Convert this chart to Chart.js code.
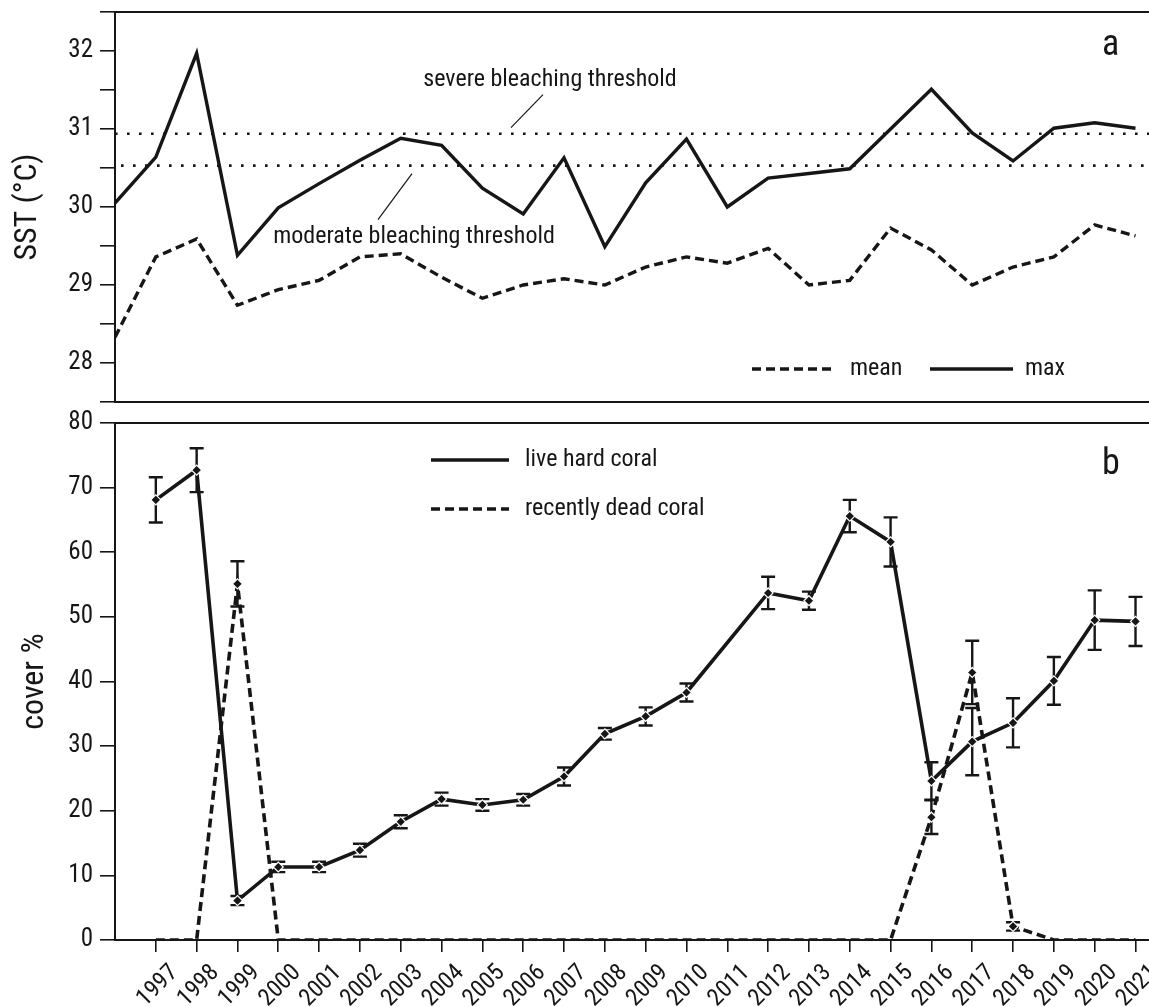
<!DOCTYPE html>
<html>
<head>
<meta charset="utf-8">
<script src="https://cdn.jsdelivr.net/npm/chart.js@4.4.0/dist/chart.umd.min.js"></script>
<style>
html,body{margin:0;padding:0;background:#fff;overflow:hidden;width:1149px;height:1007px}
.wrap{position:absolute;left:0;width:1170px}
#wrapA{top:0;height:420px}
#wrapB{top:405px;height:602px}
</style>
</head>
<body>
<div class="wrap" id="wrapA"><canvas id="sst"></canvas></div>
<div class="wrap" id="wrapB"><canvas id="cover"></canvas></div>
<script>
// panel a: sea surface temperature
const sstYears=[1996,1997,1998,1999,2000,2001,2002,2003,2004,2005,2006,2007,2008,2009,2010,2011,2012,2013,2014,2015,2016,2017,2018,2019,2020,2021];
const sstMax=[30.05,30.64,31.97,29.38,29.99,30.3,30.6,30.88,30.79,30.24,29.91,30.63,29.49,30.31,30.87,30.0,30.37,30.43,30.49,31.0,31.51,30.95,30.59,31.01,31.08,31.01];
const sstMean=[28.33,29.36,29.59,28.74,28.94,29.06,29.36,29.4,29.1,28.83,29.0,29.08,29.0,29.23,29.36,29.28,29.47,29.0,29.06,29.73,29.45,29.0,29.23,29.36,29.77,29.63];
const severeThr=30.94, moderateThr=30.53;

// panel b: coral cover
const coralYears=[1997,1998,1999,2000,2001,2002,2003,2004,2005,2006,2007,2008,2009,2010,2011,2012,2013,2014,2015,2016,2017,2018,2019,2020,2021];
const liveCover=[68.1,72.7,6.1,11.3,11.3,13.9,18.3,21.8,20.9,21.7,25.3,31.9,34.6,38.3,null,53.7,52.5,65.6,61.6,24.6,30.7,33.6,40.1,49.5,49.3];
const liveErr=[3.5,3.4,0.7,0.8,0.8,1.0,1.0,1.0,0.9,0.9,1.4,0.9,1.4,1.4,null,2.5,1.4,2.5,3.8,2.9,5.2,3.8,3.7,4.6,3.8];
const deadCover=[0,0,55.1,0,0,0,0,0,0,0,0,0,0,0,0,0,0,0,0,19.0,41.4,2.1,0,0,0];
const deadErr=[null,null,3.5,null,null,null,null,null,null,null,null,null,null,null,null,null,null,null,null,2.6,4.9,0.65,null,null,null];

const xMin=1996, xMax=2021.6;
const ink="#161616";
const FONT='"Liberation Sans Narrow","Arial Narrow","Roboto Condensed",sans-serif';
const tickFont={family:FONT,size:25};
const titleFont={family:FONT,size:32};

function pts(xs,ys){return xs.map((x,i)=>({x:x,y:ys[i]}))}

function narrowText(ctx,txt,x,y,size,align){
ctx.font=size+"px "+FONT;
ctx.textAlign=align||"left";
ctx.textBaseline="middle";
ctx.fillStyle=ink;
ctx.fillText(txt,x,y);
}

function sample(ctx,x1,x2,y,dash){
ctx.save();
ctx.strokeStyle=ink;ctx.lineWidth=3.5;
ctx.setLineDash(dash||[]);
ctx.beginPath();ctx.moveTo(x1,y);ctx.lineTo(x2,y);ctx.stroke();
ctx.restore();
}

function line(ctx,x1,y1,x2,y2,w){
ctx.save();
ctx.strokeStyle=ink;ctx.lineWidth=w||1.2;
ctx.beginPath();ctx.moveTo(x1,y1);ctx.lineTo(x2,y2);ctx.stroke();
ctx.restore();
}

function fixY(s){s.width=115;s.paddingTop=0;s.paddingBottom=0}

// ---------- panel a ----------
const sstDecor={
id:"sstDecor",
afterDraw(chart){
const ctx=chart.ctx,a=chart.chartArea,ys=chart.scales.y;
// frame top & bottom
line(ctx,a.left-1,a.top,a.right+20,a.top,2);
line(ctx,a.left-1,a.bottom,a.right+20,a.bottom,2);
// threshold labels with leaders
const ySev=ys.getPixelForValue(severeThr),yMod=ys.getPixelForValue(moderateThr);
narrowText(ctx,"severe bleaching threshold",550,ySev-54,24,"center");
line(ctx,543,ySev-39,511,ySev-6,1.2);
narrowText(ctx,"moderate bleaching threshold",414,yMod+71,24,"center");
line(ctx,412,yMod+8,378,yMod+54,1.2);
// legend
sample(ctx,752,832,369,[9,5]);
narrowText(ctx,"mean",850,369,24);
sample(ctx,930,1013,369);
narrowText(ctx,"max",1025,369,24);
narrowText(ctx,"a",1102,46,36);
}
};

new Chart(document.getElementById("sst"),{
type:"line",
data:{datasets:[
{label:"max",data:pts(sstYears,sstMax),borderColor:ink,borderWidth:3.4,pointRadius:0,tension:0},
{label:"mean",data:pts(sstYears,sstMean),borderColor:ink,borderWidth:3.4,borderDash:[9,5],pointRadius:0,tension:0},
{label:"severe",data:pts([xMin,xMax],[severeThr,severeThr]),borderColor:ink,borderWidth:2.6,borderDash:[2.6,9.4],borderDashOffset:-12,pointRadius:0},
{label:"moderate",data:pts([xMin,xMax],[moderateThr,moderateThr]),borderColor:ink,borderWidth:2.6,borderDash:[2.6,9.4],borderDashOffset:-6,pointRadius:0}
]},
options:{
animation:false,responsive:true,maintainAspectRatio:false,
layout:{padding:{top:12,left:0,right:10,bottom:18}},
plugins:{legend:{display:false},tooltip:{enabled:false}},
scales:{
x:{type:"linear",min:xMin,max:xMax,display:false},
y:{min:27.5,max:32.5,
ticks:{stepSize:0.5,color:ink,font:tickFont,padding:7,
callback:v=>Number.isInteger(v)?String(v):""},
grid:{drawOnChartArea:false,tickLength:15,color:ink,lineWidth:1.6},
border:{color:ink,width:2},
title:{display:true,text:"SST (°C)",color:ink,font:titleFont,padding:{top:9,bottom:0}},
afterFit:fixY}
}
},
plugins:[sstDecor]
});

// ---------- panel b ----------
const coverDecor={
id:"coverDecor",
beforeDatasetsDraw(chart){
const ctx=chart.ctx,xs=chart.scales.x,ys=chart.scales.y;
ctx.save();
ctx.strokeStyle=ink;ctx.lineWidth=2.4;
[[liveCover,liveErr],[deadCover,deadErr]].forEach(([m,e])=>{
coralYears.forEach((yr,i)=>{
if(e[i]==null||m[i]==null)return;
const px=xs.getPixelForValue(yr);
const t=ys.getPixelForValue(m[i]+e[i]),b=ys.getPixelForValue(m[i]-e[i]);
ctx.beginPath();
ctx.moveTo(px,t);ctx.lineTo(px,b);
ctx.moveTo(px-7,t);ctx.lineTo(px+7,t);
ctx.moveTo(px-7,b);ctx.lineTo(px+7,b);
ctx.stroke();
});
});
ctx.restore();
},
afterDraw(chart){
const ctx=chart.ctx,a=chart.chartArea,xs=chart.scales.x;
line(ctx,a.left-1,a.top,a.right+20,a.top,2);
// rotated year labels
coralYears.forEach(yr=>{
const px=xs.getPixelForValue(yr);
ctx.save();
ctx.translate(px+2,a.bottom+46);
ctx.rotate(-Math.PI/4);
narrowText(ctx,String(yr),0,0,24,"center");
ctx.restore();
});
// legend
sample(ctx,431,509,55);
narrowText(ctx,"live hard coral",525,55,24);
sample(ctx,431,509,104,[9,5]);
narrowText(ctx,"recently dead coral",525,104,24);
narrowText(ctx,"b",1102,60,36);
}
};

new Chart(document.getElementById("cover"),{
type:"line",
data:{datasets:[
{label:"recently dead coral",data:pts(coralYears,deadCover),borderColor:ink,borderWidth:3.6,borderDash:[9,5],tension:0,
pointStyle:"rectRot",pointRadius:c=>(c.raw&&c.raw.y>0)?5:0,pointBackgroundColor:ink,pointBorderColor:"#fff",pointBorderWidth:1.2},
{label:"live hard coral",data:pts(coralYears,liveCover),borderColor:ink,borderWidth:3.6,spanGaps:true,tension:0,
pointStyle:"rectRot",pointRadius:5,pointBackgroundColor:ink,pointBorderColor:"#fff",pointBorderWidth:1.2}
]},
options:{
animation:false,responsive:true,maintainAspectRatio:false,
layout:{padding:{top:18,left:0,right:10,bottom:0}},
plugins:{legend:{display:false},tooltip:{enabled:false}},
scales:{
x:{type:"linear",min:xMin,max:xMax,
afterBuildTicks:s=>{s.ticks=coralYears.map(v=>({value:v}))},
ticks:{display:false},
grid:{drawOnChartArea:false,tickLength:12,color:ink,lineWidth:1.6},
border:{color:ink,width:2},
afterFit:s=>{s.height=67;s.paddingLeft=0;s.paddingRight=0}},
y:{min:0,max:80,
ticks:{stepSize:5,color:ink,font:tickFont,padding:7,
callback:v=>v%10===0?String(v):""},
grid:{drawOnChartArea:false,tickLength:15,color:ink,lineWidth:1.6},
border:{color:ink,width:2},
title:{display:true,text:"cover %",color:ink,font:titleFont,padding:{top:16,bottom:0}},
afterFit:fixY}
}
},
plugins:[coverDecor]
});
</script>
</body>
</html>
